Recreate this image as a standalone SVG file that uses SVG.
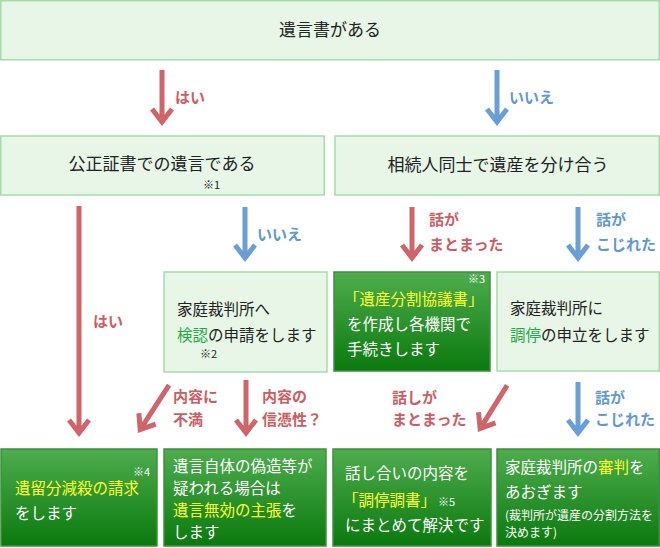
<svg xmlns="http://www.w3.org/2000/svg" width="660" height="548" viewBox="0 0 660 548">
<defs>
<linearGradient id="dg" x1="0" y1="0" x2="0" y2="1">
<stop offset="0" stop-color="#4ead4e"/>
<stop offset="1" stop-color="#0b790e"/>
</linearGradient>
<style>
text{font-family:"Noto Sans CJK JP","Noto Sans",sans-serif;}
.lb{fill:#e7f6e7;stroke:#a6dca8;stroke-width:1.5;}
.db{fill:url(#dg);stroke:#3c903c;stroke-width:1.5;}
.t17{font-size:17px;fill:#222;}
.t{font-size:15.5px;fill:#222;}
.w{font-size:15.5px;fill:#fff;}
.s{font-size:12px;fill:#fff;}
.n{font-size:11px;}
.g{fill:#1faa44;}
.y{fill:#ffff2e;}
.ar{fill:none;stroke-width:5;stroke-linejoin:miter;stroke-miterlimit:10;}
.red{stroke:#cf6469;}
.blue{stroke:#6a9fd6;}
.lr{font-size:15px;font-weight:bold;fill:#cc5d62;}
.lbl{font-size:15px;font-weight:bold;fill:#5f98d2;}
</style>
</defs>

<g id="node-top">
<rect class="lb" x="0.75" y="0.75" width="658.5" height="59"/>
<text class="t17" x="330" y="36" text-anchor="middle">遺言書がある</text>
</g>

<g id="node-kosei">
<rect class="lb" x="0.75" y="136" width="323.5" height="59"/>
<text class="t17" x="162" y="170" text-anchor="middle">公正証書での遺言である</text>
<text class="n" x="203" y="189" fill="#222">※1</text>
</g>

<g id="node-sozoku">
<rect class="lb" x="335" y="136" width="324.25" height="59"/>
<text class="t17" x="498" y="171" text-anchor="middle">相続人同士で遺産を分け合う</text>
</g>

<g id="node-kennin">
<rect class="lb" x="164" y="272" width="163" height="100"/>
<text class="t" x="177" y="315">家庭裁判所へ</text>
<text class="t" x="177" y="341"><tspan class="g">検認</tspan>の申請をします</text>
<text class="n" x="200" y="358" fill="#222">※2</text>
</g>

<g id="node-kyogi">
<rect class="db" x="334" y="272" width="156" height="99"/>
<text class="n" x="468" y="283" fill="#fff">※3</text>
<text class="w" x="344" y="305"><tspan class="y">「遺産分割協議書」</tspan></text>
<text class="w" x="347" y="330">を作成し各機関で</text>
<text class="w" x="347" y="355">手続きします</text>
</g>

<g id="node-chotei">
<rect class="lb" x="497" y="272" width="162.25" height="99"/>
<text class="t" x="510" y="314">家庭裁判所に</text>
<text class="t" x="510" y="341"><tspan class="g">調停</tspan>の申立をします</text>
</g>

<g id="node-iryubun">
<rect class="db" x="1" y="449" width="156" height="97"/>
<text class="n" x="133" y="476" fill="#fff">※4</text>
<text class="w" x="15" y="494"><tspan class="y">遺留分減殺の請求</tspan></text>
<text class="w" x="15" y="519">をします</text>
</g>

<g id="node-mukou">
<rect class="db" x="164" y="449" width="162" height="97"/>
<text class="w" x="173" y="472">遺言自体の偽造等が</text>
<text class="w" x="173" y="494">疑われる場合は</text>
<text class="w" x="173" y="516"><tspan class="y">遺言無効の主張</tspan>を</text>
<text class="w" x="173" y="538">します</text>
</g>

<g id="node-choteichosho">
<rect class="db" x="333" y="449" width="158" height="97"/>
<text class="w" x="345" y="479">話し合いの内容を</text>
<text class="w" x="343" y="506"><tspan class="y">「調停調書」</tspan><tspan font-size="11px" dx="2">※5</tspan></text>
<text class="w" x="345" y="531">にまとめて解決です</text>
</g>

<g id="node-shinpan">
<rect class="db" x="497" y="449" width="162.25" height="97"/>
<text class="w" x="505" y="473">家庭裁判所の<tspan class="y">審判</tspan>を</text>
<text class="w" x="505" y="498">あおぎます</text>
<text class="s" x="505" y="520">(裁判所が遺産の分割方法を</text>
<text class="s" x="505" y="537">決めます)</text>
</g>

<g id="connectors">
<path class="ar red" transform="translate(162,126)" d="M0,-56 V-4 M-10,-17 L0,-4 L10,-17"/>
<text class="lr" x="175" y="103">はい</text>
<path class="ar blue" transform="translate(497,126)" d="M0,-56 V-4 M-10,-17 L0,-4 L10,-17"/>
<text class="lbl" x="509" y="103">いいえ</text>

<path class="ar red" transform="translate(79,437)" d="M0,-231 V-4 M-10,-17 L0,-4 L10,-17"/>
<text class="lr" x="93" y="327">はい</text>
<path class="ar blue" transform="translate(245,262)" d="M0,-55 V-4 M-10,-17 L0,-4 L10,-17"/>
<text class="lbl" x="257" y="240">いいえ</text>
<path class="ar red" transform="translate(412,262)" d="M0,-55 V-4 M-10,-17 L0,-4 L10,-17"/>
<text class="lr" x="429" y="225">話が</text>
<text class="lr" x="429" y="250">まとまった</text>
<path class="ar blue" transform="translate(578,262)" d="M0,-55 V-4 M-10,-17 L0,-4 L10,-17"/>
<text class="lbl" x="596" y="225">話が</text>
<text class="lbl" x="596" y="250">こじれた</text>

<path class="ar red" transform="translate(138,433) rotate(33)" d="M0,-57 V-4 M-10,-17 L0,-4 L10,-17"/>
<text class="lr" x="173" y="402">内容に</text>
<text class="lr" x="173" y="425">不満</text>
<path class="ar red" transform="translate(246,437)" d="M0,-57 V-4 M-10,-17 L0,-4 L10,-17"/>
<text class="lr" x="262" y="402">内容の</text>
<text class="lr" x="262" y="425">信憑性？</text>
<path class="ar red" transform="translate(478,432) rotate(32)" d="M0,-55 V-4 M-10,-17 L0,-4 L10,-17"/>
<text class="lr" x="392" y="403">話しが</text>
<text class="lr" x="392" y="425">まとまった</text>
<path class="ar blue" transform="translate(578,437)" d="M0,-55 V-4 M-10,-17 L0,-4 L10,-17"/>
<text class="lbl" x="595" y="403">話が</text>
<text class="lbl" x="595" y="425">こじれた</text>
</g>
</svg>
